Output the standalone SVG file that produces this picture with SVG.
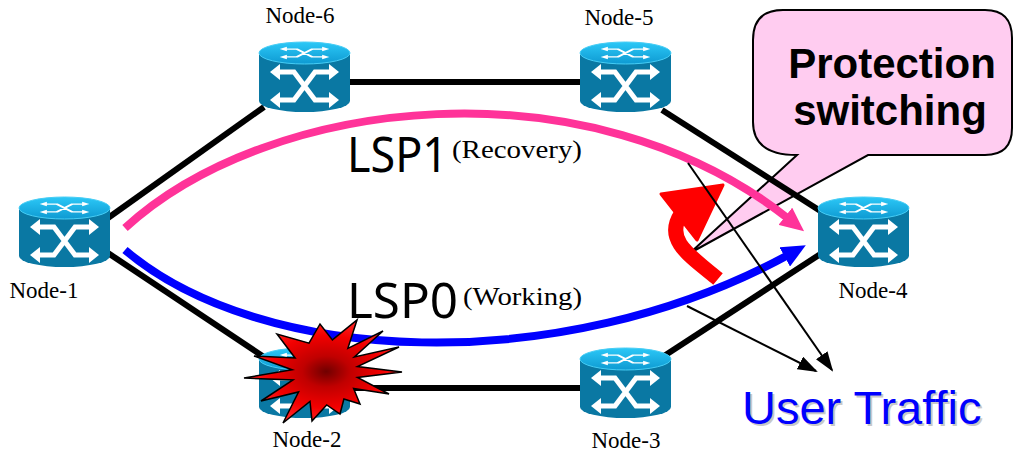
<svg xmlns="http://www.w3.org/2000/svg" xmlns:xlink="http://www.w3.org/1999/xlink" width="1017" height="454" viewBox="0 0 1017 454">
  <style>
    .link { stroke: #000; stroke-width: 6; fill: none; }
    .lbl { font-family: "Liberation Serif", "Times New Roman", serif; font-size: 23px; fill: #000; text-anchor: middle; }
    .lsp { font-family: "Noto Sans", "DejaVu Sans", sans-serif; font-size: 50px; fill: #000; }
    .sub { font-family: "Liberation Serif", "Times New Roman", serif; font-size: 25px; fill: #000; }
    .callout-text { font-family: "Liberation Sans", Arial, sans-serif; font-size: 42px; font-weight: bold; fill: #000; text-anchor: middle; }
    .traffic { font-family: "Liberation Sans", Arial, sans-serif; font-size: 47px; }
    .thin { stroke: #000; stroke-width: 2; fill: none; }
  </style>
  <defs>
    <linearGradient id="topGrad" x1="0" y1="0" x2="0" y2="1">
      <stop offset="0" stop-color="#2cc8f7"/>
      <stop offset="1" stop-color="#0e9ad2"/>
    </linearGradient>
    <radialGradient id="burstFill" cx="0.52" cy="0.5" r="0.5">
      <stop offset="0" stop-color="#700000"/>
      <stop offset="0.3" stop-color="#c00000"/>
      <stop offset="0.7" stop-color="#f20000"/>
      <stop offset="1" stop-color="#ff2222"/>
    </radialGradient>
    <!-- white switching cross with four arrowheads -->
    <g id="xmark">
      <path d="M18,30 H35 L56,58 H73 M73,30 H56 L35,58 H18" fill="none" stroke="#fff" stroke-width="5"/>
      <path d="M11,30 L21,22 V38 Z M80,30 L70,22 V38 Z M11,58 L21,50 V66 Z M80,58 L70,50 V66 Z" fill="#fff"/>
    </g>
    <!-- ATM switch cylinder, 91 x 70 -->
    <symbol id="router" viewBox="0 0 91 70" width="91" height="70" overflow="visible">
      <path d="M0,11 V59 A45.5,11 0 0 0 91,59 V11 Z" fill="#0a78a3"/>
      <ellipse cx="45.5" cy="11" rx="45.5" ry="11" fill="url(#topGrad)" stroke="#46cdf5" stroke-width="1"/>
      <use xlink:href="#xmark" transform="translate(45.5,11) scale(0.72,0.28) translate(-45.5,-44)"/>
      <use xlink:href="#xmark"/>
    </symbol>
    <marker id="headPink" markerUnits="userSpaceOnUse" markerWidth="24" markerHeight="22" refX="6" refY="11" orient="auto">
      <path d="M0,0 L24,11 L0,22 Z" fill="#ff3399"/>
    </marker>
    <marker id="headBlue" markerUnits="userSpaceOnUse" markerWidth="24" markerHeight="22" refX="6" refY="11" orient="auto">
      <path d="M0,0 L24,11 L0,22 Z" fill="#0000ff"/>
    </marker>
    <marker id="headBlack" markerUnits="userSpaceOnUse" markerWidth="20" markerHeight="14" refX="18" refY="7" orient="auto">
      <path d="M0,0 L20,7 L0,14 Z" fill="#000"/>
    </marker>
  </defs>

  <!-- speech bubble -->
  <g id="callout">
    <path d="M783,10 H985 Q1012,10 1012,38 V128 Q1012,155 985,155 H868 L690,253 L797,155 Q753,155 753,122 V40 Q753,10 783,10 Z" fill="#ffccf0" stroke="#000" stroke-width="2"/>
    <text class="callout-text" x="892" y="78">Protection</text>
    <text class="callout-text" x="890" y="125">switching</text>
  </g>

  <!-- physical links -->
  <g id="links">
    <line class="link" x1="108" y1="218" x2="264" y2="107"/>
    <line class="link" x1="108" y1="253" x2="264" y2="357"/>
    <line class="link" x1="348" y1="82" x2="582" y2="82"/>
    <line class="link" x1="348" y1="388" x2="582" y2="388"/>
    <line class="link" x1="662" y1="110" x2="822" y2="212"/>
    <line class="link" x1="664" y1="356" x2="822" y2="253"/>
  </g>

  <!-- label switched paths -->
  <g id="lsps">
    <path d="M125,228 C270,95 590,60 790,220" fill="none" stroke="#ff3399" stroke-width="8" marker-end="url(#headPink)"/>
    <path d="M125,250 C260,365 560,380 790,254" fill="none" stroke="#0000ff" stroke-width="8" marker-end="url(#headBlue)"/>
  </g>

  <g id="node-1">
    <use xlink:href="#router" x="19" y="197"/>
    <text class="lbl" x="44" y="298">Node-1</text>
  </g>
  <g id="node-6">
    <use xlink:href="#router" x="259" y="42"/>
    <text class="lbl" x="300" y="23">Node-6</text>
  </g>
  <g id="node-5">
    <use xlink:href="#router" x="580" y="42"/>
    <text class="lbl" x="619" y="25">Node-5</text>
  </g>
  <g id="node-4">
    <use xlink:href="#router" x="818" y="197"/>
    <text class="lbl" x="873" y="298">Node-4</text>
  </g>
  <g id="node-2">
    <use xlink:href="#router" x="259" y="348"/>
    <text class="lbl" x="307" y="447">Node-2</text>
  </g>
  <g id="node-3">
    <use xlink:href="#router" x="580" y="348"/>
    <text class="lbl" x="626" y="448">Node-3</text>
  </g>

  <!-- link failure burst -->
  <g id="failure">
    <polygon points="357,320 347.9,348.3 383,331 354.4,357 399,347 357.5,366.6 402,372 357.5,377.4 389,394 353.6,388.5 360,404 343.9,399 340,414 326.7,405 312,421 310,401.4 283,423 298.6,391.9 261,401 293,380 244,378 292.1,369.7 254,356 295.1,358 277,334 309,343.1 320,324 332.4,339.9" fill="url(#burstFill)" stroke="#000" stroke-width="1.5" stroke-linejoin="miter"/>
  </g>

  <!-- switch-over arrow -->
  <g id="switch-arrow">
    <path d="M718,279 C690,256 664,240 681,214" fill="none" stroke="#ff0000" stroke-width="15"/>
    <polygon points="661,194 723,185 697,240" fill="#ff0000" stroke="#ff0000" stroke-width="3" stroke-linejoin="round"/>
  </g>

  <!-- user traffic pointers -->
  <g id="traffic-arrows">
    <line class="thin" x1="688" y1="163" x2="832" y2="370" marker-end="url(#headBlack)"/>
    <line class="thin" x1="687" y1="306" x2="816" y2="371" marker-end="url(#headBlack)"/>
  </g>

  <!-- path labels -->
  <g id="labels">
    <text class="lsp" x="347" y="172" textLength="101" lengthAdjust="spacingAndGlyphs">LSP1</text>
    <text class="sub" x="452" y="158" textLength="130" lengthAdjust="spacingAndGlyphs">(Recovery)</text>
    <text class="lsp" x="347" y="318" textLength="111" lengthAdjust="spacingAndGlyphs">LSP0</text>
    <text class="sub" x="463" y="305" textLength="119" lengthAdjust="spacingAndGlyphs">(Working)</text>
    <text class="traffic" x="744" y="426" fill="#c8c8c8">User Traffic</text>
    <text class="traffic" x="742" y="424" fill="#0000ff">User Traffic</text>
  </g>
</svg>
